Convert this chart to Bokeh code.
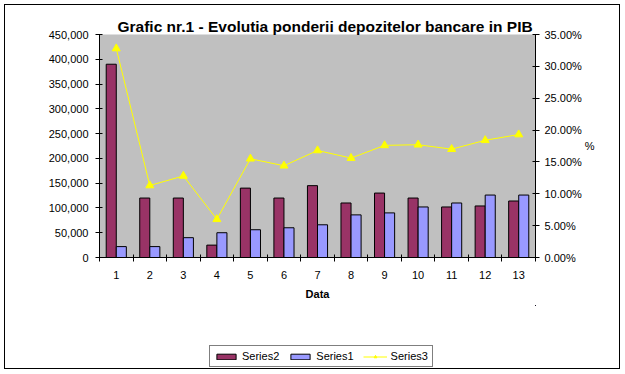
from bokeh.plotting import figure
from bokeh.layouts import column
from bokeh.models import (ColumnDataSource, Range1d, LinearAxis, FixedTicker,
                          NumeralTickFormatter, Legend, LegendItem)
from bokeh.transform import dodge
from bokeh.embed import file_html
from bokeh.resources import INLINE

# ---- data ----
categories = ["1", "2", "3", "4", "5", "6", "7", "8", "9", "10", "11", "12", "13"]
xpos = [1, 2, 3, 4, 5, 6, 7, 8, 9, 10, 11, 12, 13]
series2 = [390000, 120000, 120000, 25000, 140000, 120000, 145000, 110000, 130000,
           120000, 102000, 104000, 114000]
series1 = [22000, 22000, 40000, 50000, 56000, 60000, 66000, 86000, 90000,
           102000, 110000, 126000, 126000]
series3 = [0.328, 0.113, 0.128, 0.060, 0.155, 0.144, 0.168, 0.156, 0.176,
           0.177, 0.170, 0.184, 0.193]
series_names = ["Series2", "Series1", "Series3"]
left_ticks = [0, 50000, 100000, 150000, 200000, 250000, 300000, 350000, 400000, 450000]
right_ticks = [0.0, 0.05, 0.10, 0.15, 0.20, 0.25, 0.30, 0.35]
title_text = "Grafic nr.1 - Evolutia ponderii depozitelor bancare in PIB"

C2, C1, C3 = "#993366", "#9999FF", "#FFFF00"
FONT = "Liberation Sans"

src = ColumnDataSource(dict(x=xpos, s1=series1, s2=series2, s3=series3))

p = figure(width=614, height=300, output_backend="svg", toolbar_location=None,
           x_range=Range1d(0.5, 13.5), y_range=Range1d(0, 450000),
           min_border_left=94, min_border_right=84, min_border_top=29,
           min_border_bottom=48)
p.extra_y_ranges = {"pct": Range1d(0, 0.35)}
p.background_fill_color = "#C0C0C0"
p.border_fill_color = "white"
p.outline_line_color = None
p.xgrid.visible = False
p.ygrid.visible = False

# title
p.title.text = title_text
p.title.text_font = FONT
p.title.text_font_size = "15.5px"
p.title.text_font_style = "bold"
p.title.align = "left"
p.title.offset = 18
p.title.standoff = 0
p.title.text_color = "black"

# bars
p.vbar(x=dodge("x", -0.15), top="s2", width=0.3, source=src,
       fill_color=C2, line_color="black", line_width=1)
p.vbar(x=dodge("x", 0.15), top="s1", width=0.3, source=src,
       fill_color=C1, line_color="black", line_width=1)
# line
p.line(x="x", y="s3", source=src, y_range_name="pct", line_color=C3, line_width=1)
p.scatter(x="x", y="s3", source=src, y_range_name="pct", marker="triangle",
          size=8, fill_color=C3, line_color=C3)

# x axis
xa = p.xaxis[0]
xa.ticker = FixedTicker(ticks=xpos,
                        minor_ticks=[0.5, 1.5, 2.5, 3.5, 4.5, 5.5, 6.5, 7.5, 8.5,
                                     9.5, 10.5, 11.5, 12.5, 13.5])
xa.major_label_overrides = {x: c for x, c in zip(xpos, categories)}
xa.major_tick_in = 0
xa.major_tick_out = 0
xa.minor_tick_in = 3
xa.minor_tick_out = 4
xa.minor_tick_line_color = "black"
xa.axis_line_color = "black"
xa.major_label_standoff = 9
xa.major_label_text_font = FONT
xa.major_label_text_font_size = "11px"
xa.major_label_text_color = "black"
xa.axis_label = "Data"
xa.axis_label_text_font = FONT
xa.axis_label_text_font_size = "11px"
xa.axis_label_text_font_style = "bold"
xa.axis_label_text_color = "black"
xa.axis_label_standoff = 6

# left axis
ya = p.yaxis[0]
ya.ticker = FixedTicker(ticks=left_ticks)
ya.formatter = NumeralTickFormatter(format="0,0")
ya.major_tick_in = 3
ya.major_tick_out = 4
ya.minor_tick_line_color = None
ya.major_label_standoff = 7
ya.major_label_text_font = FONT
ya.major_label_text_font_size = "11px"
ya.major_label_text_color = "black"
ya.axis_line_color = "black"
ya.major_tick_line_color = "black"

# right axis
ra = LinearAxis(y_range_name="pct", ticker=FixedTicker(ticks=right_ticks),
                formatter=NumeralTickFormatter(format="0.00%"))
ra.major_tick_in = 3
ra.major_tick_out = 4
ra.minor_tick_line_color = None
ra.major_label_standoff = 5
ra.major_label_text_font = FONT
ra.major_label_text_font_size = "11px"
ra.major_label_text_color = "black"
ra.axis_line_color = "black"
ra.major_tick_line_color = "black"
ra.axis_label = "%"
ra.axis_label_text_font = FONT
ra.axis_label_text_font_size = "11px"
ra.axis_label_text_font_style = "normal"
ra.axis_label_text_color = "black"
ra.axis_label_standoff = 0
try:
    ra.axis_label_orientation = "horizontal"
except Exception:
    pass
p.add_layout(ra, "right")

# ---- legend strip (separate small figure below the chart) ----
# the strip's ranges lie outside the data, so its renderers only feed the legend
pl = figure(width=614, height=63, output_backend="svg", toolbar_location=None,
            x_range=Range1d(-2, -1), y_range=Range1d(-2, -1),
            x_axis_location=None, y_axis_location=None,
            min_border=0, min_border_left=0, min_border_right=0,
            min_border_top=0, min_border_bottom=0)
pl.outline_line_color = None
pl.background_fill_color = "white"
pl.border_fill_color = "white"
pl.xgrid.visible = False
pl.ygrid.visible = False
g2 = pl.vbar(x="x", top="s2", width=0.3, source=src,
             fill_color=C2, line_color="black", line_width=1)
g1 = pl.vbar(x="x", top="s1", width=0.3, source=src,
             fill_color=C1, line_color="black", line_width=1)
g3 = pl.line(x="x", y="s3", source=src, line_color=C3, line_width=1)
g3m = pl.scatter(x="x", y="s3", source=src, marker="triangle", size=8,
                 fill_color=C3, line_color=C3)
legend = Legend(items=[LegendItem(label=series_names[0], renderers=[g2]),
                       LegendItem(label=series_names[1], renderers=[g1]),
                       LegendItem(label=series_names[2], renderers=[g3, g3m])],
                orientation="horizontal", location=(110, 1),
                border_line_color="black", border_line_width=1,
                background_fill_color="white", background_fill_alpha=1.0,
                padding=4, spacing=9, margin=0,
                glyph_width=24, glyph_height=7, label_height=11,
                label_standoff=4, label_text_font=FONT,
                label_text_font_size="11px", label_text_color="black")
pl.add_layout(legend, "center")

layout = column(p, pl, spacing=0)
layout.styles = {"border": "1px solid black", "margin": "4px 0 0 4px",
                 "background-color": "white"}

open("out.html", "w").write(file_html(layout, INLINE))
